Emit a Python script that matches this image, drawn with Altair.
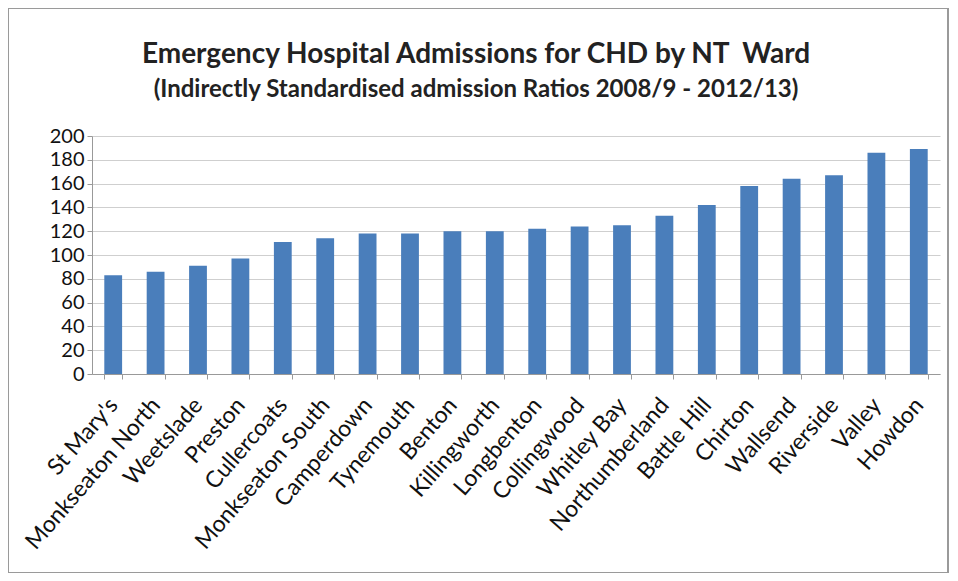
import altair as alt
import pandas as pd

wards = ["St Mary's", "Monkseaton North", "Weetslade", "Preston", "Cullercoats",
         "Monkseaton South", "Camperdown", "Tynemouth", "Benton", "Killingworth",
         "Longbenton", "Collingwood", "Whitley Bay", "Northumberland", "Battle Hill",
         "Chirton", "Wallsend", "Riverside", "Valley", "Howdon"]
ratios = [83, 86, 91, 97, 111, 114, 118, 118, 120, 120,
          122, 124, 125, 133, 142, 158, 164, 167, 186, 189]
y_ticks = list(range(0, 201, 20))

df = pd.DataFrame({"ward": wards, "ratio": ratios})
FONT = "Lato"

bars = alt.Chart(df).mark_bar(color="#4A7EBB").encode(
    x=alt.X("ward:N", sort=wards, title=None,
            scale=alt.Scale(paddingInner=0.58, paddingOuter=0.29),
            axis=alt.Axis(labelAngle=-49, labelAlign="right", labelBaseline="middle",
                          labelFontSize=23, labelColor="#111", labelFont=FONT,
                          labelLimit=400,
                          tickBand="extent", tickColor="#999", domainColor="#999",
                          tickSize=5, labelPadding=22, grid=False)),
    y=alt.Y("ratio:Q", title=None,
            scale=alt.Scale(domain=[0, 200], nice=False),
            axis=alt.Axis(values=y_ticks, labelFontSize=20, labelColor="#111",
                          labelFont=FONT, tickColor="#999", domainColor="#999",
                          tickSize=5, gridColor="#cfcfcf", labelPadding=3))
)

border = alt.Chart(df).mark_rect(fill=None, stroke="#9a9a9a", strokeWidth=1.5).encode(
    x=alt.value(-84), x2=alt.value(856), y=alt.value(-128), y2=alt.value(437)
)

chart = alt.layer(bars, border).properties(
    width=848, height=238,
    autosize=alt.AutoSizeParams(type="none"),
    padding={"left": 84, "top": 128, "right": 10, "bottom": 199},
    title=alt.TitleParams(
        "Emergency Hospital Admissions for CHD by NT\u00a0 Ward",
        subtitle="(Indirectly Standardised admission Ratios 2008/9 - 2012/13)",
        font=FONT, fontSize=28, fontWeight="bold", color="#222",
        subtitleFont=FONT, subtitleFontSize=24, subtitleFontWeight="bold",
        subtitleColor="#222", subtitlePadding=9,
        anchor="middle", dx=-40, offset=-95
    )
).configure_view(stroke=None)

chart.save("out.html", embed_options={"renderer": "svg", "actions": False})
